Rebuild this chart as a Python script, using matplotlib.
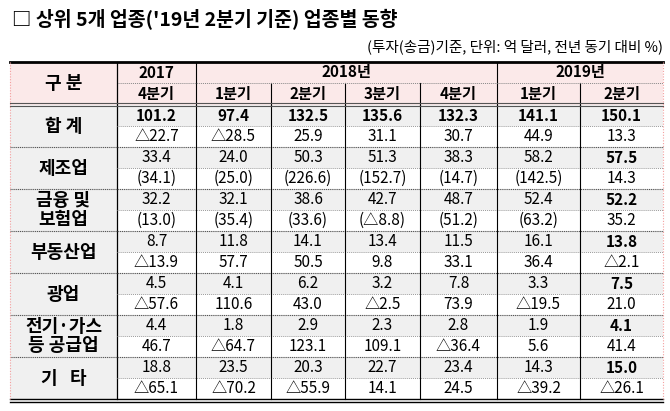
import matplotlib
matplotlib.use("Agg")
import matplotlib.pyplot as plt
from matplotlib.patches import Rectangle
from matplotlib import font_manager

names = {f.name for f in font_manager.fontManager.ttflist}
fam = [n for n in ["Noto Sans CJK KR", "Noto Sans CJK JP", "Noto Sans CJK SC", "Noto Sans CJK TC"] if n in names]
plt.rcParams["font.family"] = fam + ["DejaVu Sans"]

title = "□ 상위 5개 업종('19년 2분기 기준) 업종별 동향"
subtitle = "(투자(송금)기준, 단위: 억 달러, 전년 동기 대비 %)"
years = [("2017", 1), ("2018년", 4), ("2019년", 2)]
quarters = ["4분기", "1분기", "2분기", "3분기", "4분기", "1분기", "2분기"]
labels = ["합 계", "제조업", "금융 및\n보험업", "부동산업", "광업", "전기·가스\n등 공급업", "기   타"]
values = [
    ["101.2", "97.4", "132.5", "135.6", "132.3", "141.1", "150.1"],
    ["33.4", "24.0", "50.3", "51.3", "38.3", "58.2", "57.5"],
    ["32.2", "32.1", "38.6", "42.7", "48.7", "52.4", "52.2"],
    ["8.7", "11.8", "14.1", "13.4", "11.5", "16.1", "13.8"],
    ["4.5", "4.1", "6.2", "3.2", "7.8", "3.3", "7.5"],
    ["4.4", "1.8", "2.9", "2.3", "2.8", "1.9", "4.1"],
    ["18.8", "23.5", "20.3", "22.7", "23.4", "14.3", "15.0"],
]
changes = [
    ["△22.7", "△28.5", "25.9", "31.1", "30.7", "44.9", "13.3"],
    ["(34.1)", "(25.0)", "(226.6)", "(152.7)", "(14.7)", "(142.5)", "14.3"],
    ["(13.0)", "(35.4)", "(33.6)", "(△8.8)", "(51.2)", "(63.2)", "35.2"],
    ["△13.9", "57.7", "50.5", "9.8", "33.1", "36.4", "△2.1"],
    ["△57.6", "110.6", "43.0", "△2.5", "73.9", "△19.5", "21.0"],
    ["46.7", "△64.7", "123.1", "109.1", "△36.4", "5.6", "41.4"],
    ["△65.1", "△70.2", "△55.9", "14.1", "24.5", "△39.2", "△26.1"],
]

fig = plt.figure(figsize=(6.7, 4.11), dpi=100)
ax = fig.add_axes([0, 0, 1, 1])
ax.set_xlim(0, 670); ax.set_ylim(411, 0); ax.axis("off")

L, R = 10, 663
cols = [117, 196, 271, 345, 420, 497, 580, 663]
top, hmid, hbot = 62, 83, 105
gh = 42
pink, gray = "#fbe9e9", "#f0f0f0"
fs = 11

ax.text(12, 20, title, fontsize=14, fontweight="bold", va="center", ha="left")
ax.text(663, 47, subtitle, fontsize=10.5, va="center", ha="right")

# header
ax.add_patch(Rectangle((L, top), R - L, hbot - top, fc=pink, ec="none"))
ax.text((L + cols[0]) / 2, (top + hbot) / 2, "구 분", fontsize=13, fontweight="bold", ha="center", va="center")
ci = 0
for y, n in years:
    x0, x1 = cols[ci], cols[ci + n]
    ax.text((x0 + x1) / 2, (top + hmid) / 2, y, fontsize=fs, fontweight="bold", ha="center", va="center")
    if ci > 0:
        ax.plot([x0, x0], [top, hmid], color="black", lw=0.8)
    ci += n
for i, q in enumerate(quarters):
    ax.text((cols[i] + cols[i + 1]) / 2, (hmid + hbot) / 2, q, fontsize=fs, fontweight="bold", ha="center", va="center")
    if i > 0:
        ax.plot([cols[i], cols[i]], [hmid, hbot], color="black", lw=0.8)
ax.plot([cols[0], R], [hmid, hmid], color="#888888", lw=0.7, ls=(0, (1, 1)))
ax.plot([cols[0], cols[0]], [top, 399], color="black", lw=0.9)

# body
for g in range(len(labels)):
    y0 = hbot + g * gh
    ym = y0 + gh / 2
    ax.add_patch(Rectangle((L, y0), cols[0] - L, gh, fc=gray, ec="none"))
    ax.add_patch(Rectangle((cols[0], y0), R - cols[0], gh / 2, fc=gray, ec="none"))
    ax.text((L + cols[0]) / 2, ym, labels[g], fontsize=13, fontweight="bold", ha="center", va="center", linespacing=0.95)
    for i in range(7):
        cx = (cols[i] + cols[i + 1]) / 2
        bold = (g == 0) or (i == 6)
        ax.text(cx, y0 + gh / 4, values[g][i], fontsize=fs, fontweight="bold" if bold else "normal", ha="center", va="center")
        ax.text(cx, y0 + 3 * gh / 4, changes[g][i], fontsize=fs, ha="center", va="center")
    ax.plot([cols[0], R], [ym, ym], color="#999999", lw=0.7, ls=(0, (1, 1)))
    if g > 0:
        ax.plot([L, R], [y0, y0], color="#555555", lw=0.8, ls=(0, (1, 0.7)))
    for i in range(1, 7):
        ax.plot([cols[i], cols[i]], [y0, y0 + gh], color="black", lw=0.8)

bot = hbot + len(labels) * gh
ax.plot([L, R], [top, top], color="black", lw=2)
ax.plot([L, R], [hbot - 1.5, hbot - 1.5], color="#555555", lw=0.8)
ax.plot([L, R], [hbot + 1, hbot + 1], color="#555555", lw=0.8)
ax.plot([L, R], [bot, bot], color="black", lw=1.0)
ax.plot([L, R], [bot + 2.5, bot + 2.5], color="black", lw=1.0)
for x in (L, R):
    ax.plot([x, x], [top, bot], color="#f4a0a0", lw=0.8, ls=(0, (1, 1.5)))

fig.savefig("out.png", dpi=100)
